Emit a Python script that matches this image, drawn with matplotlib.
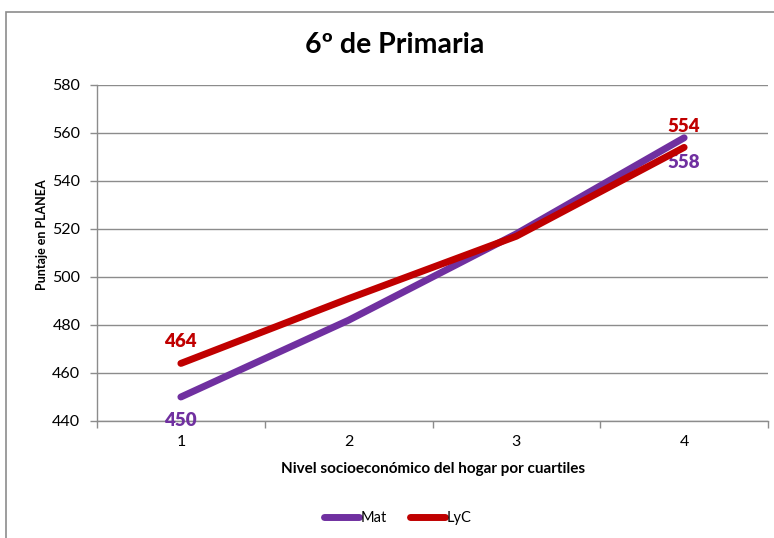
import matplotlib
matplotlib.use("Agg")
import matplotlib.pyplot as plt
from matplotlib.patches import Rectangle

plt.rcParams['font.family'] = ['Lato', 'DejaVu Sans']

cuartiles = [1, 2, 3, 4]
mat = [450, 482, 518, 558]
lyc = [464, 491, 517, 554]
y_ticks = [440, 460, 480, 500, 520, 540, 560, 580]

purple = '#7030A0'
red = '#C00000'
grid_gray = '#8c8c8c'

fig = plt.figure(figsize=(7.74, 5.38), dpi=100)
W, H = 774, 538

# chart area border
fig.add_artist(Rectangle((6 / W, -0.1), 1.0, 1 - 12 / H + 0.1, transform=fig.transFigure,
                         fill=False, edgecolor='#8c8c8c', linewidth=1.2))

ax = fig.add_axes([97 / W, 1 - 421 / H, (768 - 97) / W, (421 - 85) / H])
ax.plot(cuartiles, mat, color=purple, lw=5, solid_capstyle='round', label='Mat', zorder=3)
ax.plot(cuartiles, lyc, color=red, lw=5, solid_capstyle='round', label='LyC', zorder=4)

ax.set_xlim(0.5, 4.5)
ax.set_ylim(440, 580)
ax.set_yticks(y_ticks)
ax.set_xticks(cuartiles)
ax.set_xticks([0.5, 1.5, 2.5, 3.5, 4.5], minor=True)
ax.tick_params(axis='x', which='major', length=0, pad=10, labelsize=11.5)
ax.tick_params(axis='x', which='minor', length=5, color=grid_gray, width=1)
ax.tick_params(axis='y', length=5, color=grid_gray, width=1, pad=7, labelsize=11.5)
ax.yaxis.grid(True, color=grid_gray, linewidth=1)
ax.set_axisbelow(True)
for s in ['top', 'right']:
    ax.spines[s].set_visible(False)
for s in ['left', 'bottom']:
    ax.spines[s].set_color(grid_gray)
    ax.spines[s].set_linewidth(1)

# data labels at the ends of each series
lab = dict(ha='center', fontsize=13.5, fontweight='heavy', annotation_clip=False)
ax.annotate(str(lyc[0]), (cuartiles[0], lyc[0]), xytext=(0, 10), textcoords='offset points',
            va='bottom', color=red, **lab)
ax.annotate(str(mat[0]), (cuartiles[0], mat[0]), xytext=(0, -11), textcoords='offset points',
            va='top', color=purple, **lab)
ax.annotate(str(lyc[-1]), (cuartiles[-1], lyc[-1]), xytext=(0, 9), textcoords='offset points',
            va='bottom', color=red, **lab)
ax.annotate(str(mat[-1]), (cuartiles[-1], mat[-1]), xytext=(0, -12), textcoords='offset points',
            va='top', color=purple, **lab)

fig.text(395 / W, 1 - 45 / H, '6º de Primaria', ha='center', va='center',
         fontsize=20.5, fontweight='bold')
fig.text(42 / W, 1 - 235 / H, 'Puntaje en PLANEA', ha='center', va='center',
         rotation=90, fontsize=9, fontweight='bold')
fig.text(433 / W, 1 - 469 / H, 'Nivel socioeconómico del hogar por cuartiles', ha='center',
         va='center', fontsize=11, fontweight='bold')

fig.legend(loc='center', bbox_to_anchor=(398 / W, 1 - 518 / H), ncol=2, frameon=False,
           fontsize=10.5, handlelength=2.4, handletextpad=0.1, columnspacing=1.6)

fig.savefig('out.png', dpi=100)
